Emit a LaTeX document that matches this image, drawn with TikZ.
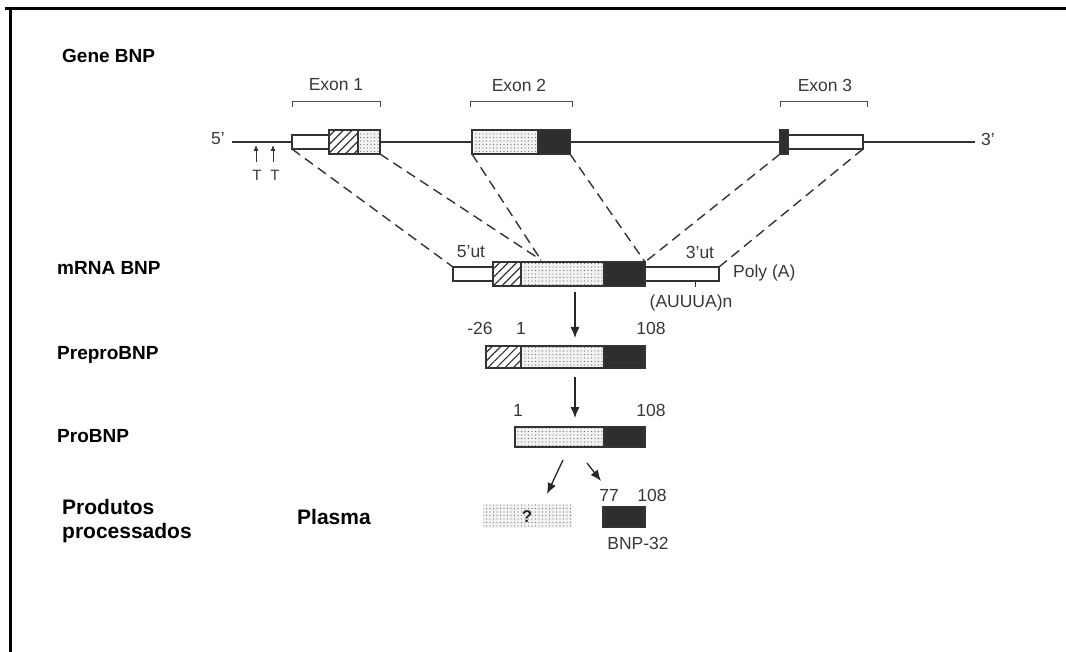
\documentclass[tikz,border=0pt]{standalone}
\usepackage{fontspec}
\setmainfont{Liberation Sans}
\usetikzlibrary{patterns.meta,arrows.meta}
\begin{document}
\begin{tikzpicture}[x=1pt,y=-1pt,
  seg/.style={draw=black!80, line width=1.4pt, inner sep=0pt, outer sep=0pt,
              anchor=west, minimum height=24pt},
  thinseg/.style={minimum height=14pt},
  openbox/.style={seg, thinseg, fill=white},
  hatchbox/.style={seg, preaction={fill=white},
              pattern={Lines[angle=45,distance=6pt,line width=1.2pt]}, pattern color=black!80},
  dotbox/.style={seg, preaction={fill=gray!10},
              pattern={Dots[radius=0.55pt,distance=3.5pt]}, pattern color=black!55},
  darkbox/.style={seg, fill=black!82},
  lab/.style={font=\bfseries\fontsize{19}{24}\selectfont, inner sep=0pt, anchor=west, align=left},
  dtext/.style={font=\fontsize{17.5}{20}\selectfont, text=black!78, inner sep=0pt},
  dashline/.style={draw=black!80, line width=1.4pt, dash pattern=on 10pt off 6pt},
  arr/.style={draw=black!85, line width=1.3pt, -{Latex[length=11pt,width=9pt]}},
  bracket/.style={draw=black!70, line width=1pt}
]
\useasboundingbox (0,0) rectangle (1066,652);

% frame
\draw[line width=3pt] (5,8.5) -- (1066,8.5);
\draw[line width=3pt] (10.5,7) -- (10.5,652);

% row labels
\node[lab] (lgene) at (62,56) {Gene BNP};
\node[lab] (lmrna) at (57,268) {mRNA BNP};
\node[lab] (lprepro) at (57,355) {PreproBNP};
\node[lab] (lpro) at (57,436) {ProBNP};
\node[lab, font=\bfseries\fontsize{21}{24}\selectfont] (lprod) at (62,521) {Produtos\\processados};
\node[lab, font=\bfseries\fontsize{21}{24}\selectfont] (lplasma) at (297,517) {Plasma};

% gene backbone
\coordinate (g5) at (232,142);
\coordinate (g3) at (975,142);
\draw[draw=black!80, line width=1.2pt] (g5) -- (g3);
\node[dtext] (t5) at (218,139) {5'};
\node[dtext] (t3) at (988,139) {3'};

% TATA boxes
\coordinate (ta1) at (256,162);
\coordinate (ta2) at (273,162);
\coordinate (tb1) at (256,145);
\coordinate (tb2) at (273,145);
\draw[draw=black!80, line width=0.9pt, -{Latex[length=6pt,width=5pt]}] (ta1) -- (tb1);
\draw[draw=black!80, line width=0.9pt, -{Latex[length=6pt,width=5pt]}] (ta2) -- (tb2);
\node[dtext, font=\fontsize{15}{18}\selectfont] (tt1) at (257,175) {T};
\node[dtext, font=\fontsize{15}{18}\selectfont] (tt2) at (275,175) {T};

% exons
\node[openbox, minimum width=37pt] (e1a) at (292,142) {};
\node[hatchbox, minimum width=29pt] (e1b) at (329,142) {};
\node[dotbox, minimum width=22pt] (e1c) at (358,142) {};
\node[dotbox, minimum width=66pt] (e2a) at (472,142) {};
\node[darkbox, minimum width=32pt] (e2b) at (538,142) {};
\node[darkbox, minimum width=8pt] (e3a) at (780,142) {};
\node[openbox, minimum width=75pt] (e3b) at (788,142) {};

% exon brackets and names
\draw[bracket] (292,107) -- (292,102) -- (380,102) -- (380,107);
\draw[bracket] (470,107) -- (470,102) -- (572,102) -- (572,107);
\draw[bracket] (780,107) -- (780,102) -- (867,102) -- (867,107);
\node[dtext] (x1) at (336,85) {Exon 1};
\node[dtext] (x2) at (519,85) {Exon 2};
\node[dtext] (x3) at (825,85) {Exon 3};

% mRNA
\node[openbox, minimum width=40pt] (m1) at (453,274) {};
\node[hatchbox, minimum width=28pt] (m2) at (493,274) {};
\node[dotbox, minimum width=83pt] (m3) at (521,274) {};
\node[darkbox, minimum width=41pt] (m4) at (604,274) {};
\node[openbox, minimum width=74pt] (m5) at (645,274) {};
\node[dtext] (u5) at (471,252) {5'ut};
\node[dtext] (u3) at (700,252) {3'ut};
\node[dtext, anchor=west] (polya) at (733,273) {Poly (A)};
\node[dtext] (auuua) at (691,303) {(AUUUA)n};
\coordinate (tk1) at (695,281);
\coordinate (tk2) at (695,287);
\draw[draw=black!80, line width=1pt] (tk1) -- (tk2);

% splicing: exons onto the mRNA
\coordinate (cj) at (541,260);
\draw[dashline] (e1a.south west) -- (m1.north west);
\draw[dashline] (e1c.south east) -- (cj);
\draw[dashline] (e2a.south west) -- (cj);
\draw[dashline] (e2b.south east) -- (m4.north east);
\draw[dashline] (e3a.south west) -- (m4.north east);
\draw[dashline] (e3b.south east) -- (m5.north east);

% translation
\coordinate (a1s) at (575,292);
\coordinate (a1e) at (575,338);
\draw[arr] (a1s) -- (a1e);

% preproBNP
\node[hatchbox, minimum width=35pt, minimum height=22pt] (p1) at (486,357) {};
\node[dotbox, minimum width=83pt, minimum height=22pt] (p2) at (521,357) {};
\node[darkbox, minimum width=41pt, minimum height=22pt] (p3) at (604,357) {};
\node[dtext] (n26) at (480,328) {-26};
\node[dtext] (n1a) at (521,328) {1};
\node[dtext] (n108a) at (651,328) {108};

\coordinate (a2s) at (575,377);
\coordinate (a2e) at (575,418);
\draw[arr] (a2s) -- (a2e);

% proBNP
\node[dotbox, minimum width=89pt, minimum height=20pt] (r1) at (515,437) {};
\node[darkbox, minimum width=41pt, minimum height=20pt] (r2) at (604,437) {};
\node[dtext] (n1b) at (518,410) {1};
\node[dtext] (n108b) at (651,410) {108};

% processing products
\coordinate (a3s) at (563,460);
\coordinate (a3e) at (547,494);
\coordinate (a4s) at (587,463);
\coordinate (a4e) at (601,481);
\draw[arr] (a3s) -- (a3e);
\draw[arr] (a4s) -- (a4e);

\node[dotbox, draw=none, minimum width=89pt, minimum height=23pt] (q) at (483,516) {};
\node[font=\bfseries\fontsize{17}{20}\selectfont, text=black!85, inner sep=0pt] (qm) at (527,517) {?};
\node[darkbox, minimum width=42pt, minimum height=20pt] (b1) at (603,517) {};
\node[dtext] (n77) at (609,495) {77};
\node[dtext] (n108c) at (652,495) {108};
\node[dtext] (bnp) at (638,543) {BNP-32};
\end{tikzpicture}
\end{document}
